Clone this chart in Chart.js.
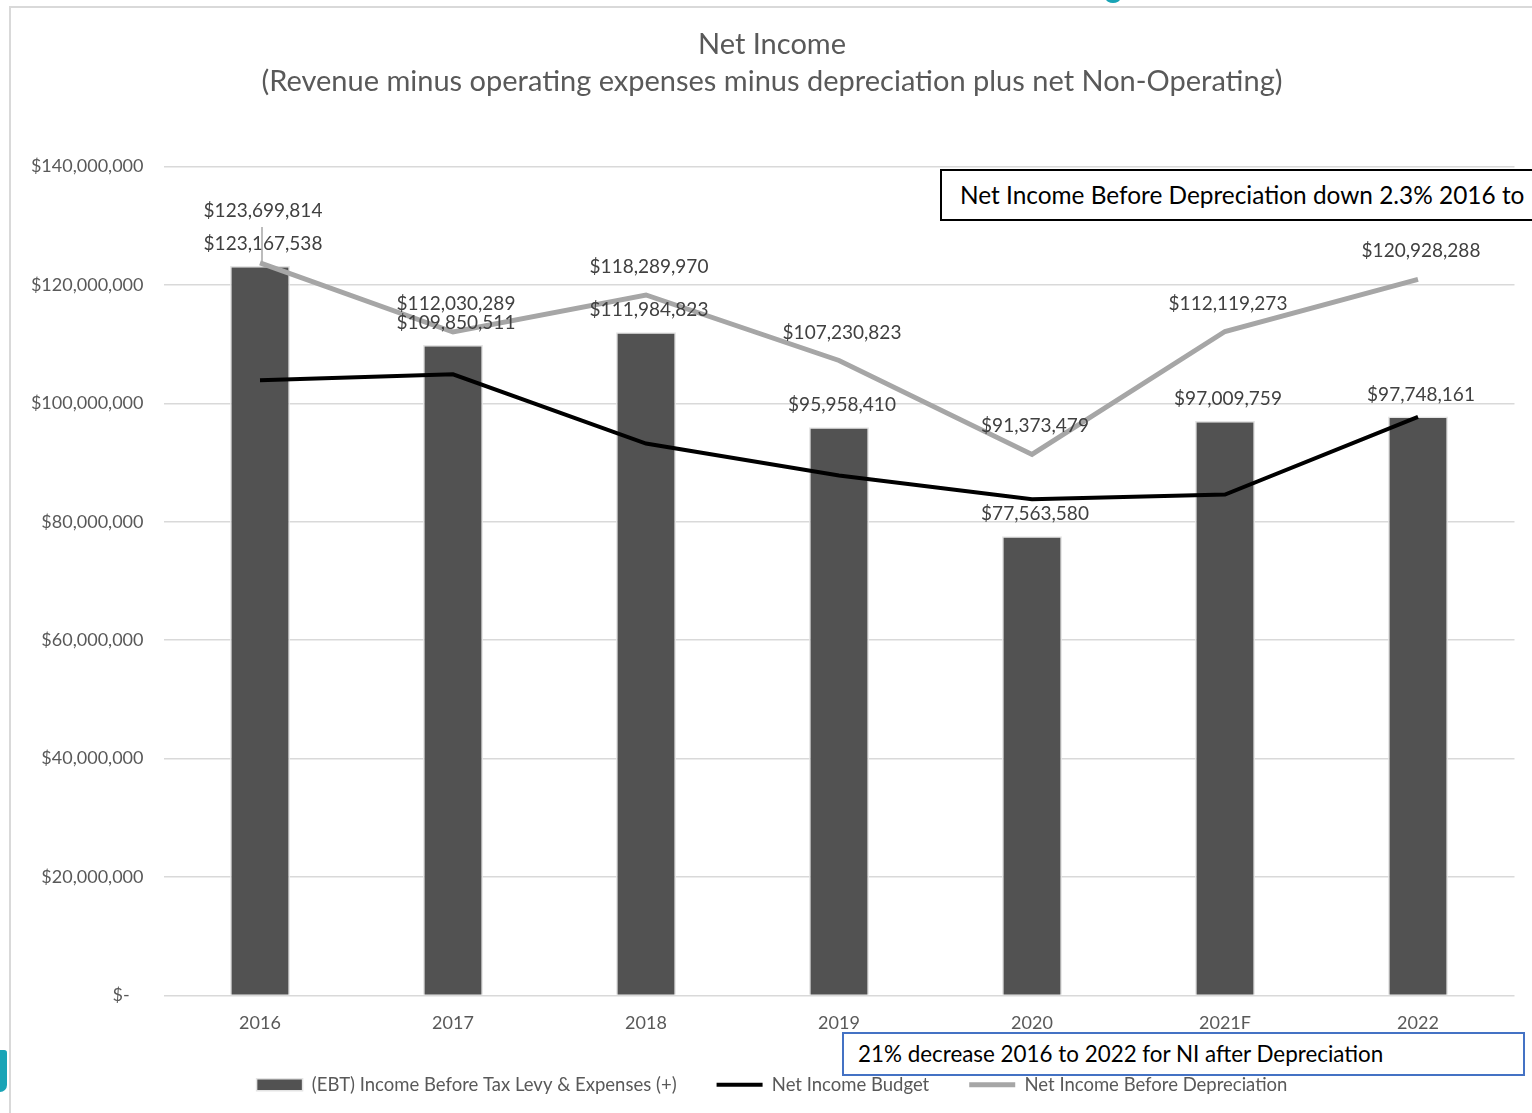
<!DOCTYPE html>
<html lang="en">
    <head>
        <meta charset="UTF-8">
        <title>Net Income</title>
        <script src="https://cdn.jsdelivr.net/npm/chart.js@4/dist/chart.umd.min.js"></script>
        <style>
            body { margin: 0; background: #fff; overflow: hidden; }
            .frame { position: absolute; left: 9px; top: 6px; width: 1700px; height: 1300px;
                     border-left: 2px solid #d9d9d9; border-top: 2px solid #d9d9d9; }
            #netIncome { position: absolute; left: 0; top: 0; }
            .note { position: absolute; background: #fff; font-family: Lato, sans-serif;
                    color: #000; white-space: nowrap; box-sizing: border-box; }
            .noteTop { left: 940px; top: 169px; width: 640px; height: 52px; border: 2px solid #000;
                       font-size: 24.4px; line-height: 48px; padding-left: 18px; }
            .noteBottom { left: 842px; top: 1032px; width: 683px; height: 44px; border: 2px solid #4472c4;
                          font-size: 22.4px; line-height: 40px; padding-left: 14px; }
            .tealLeft { position: absolute; left: 0; top: 1050px; width: 7px; height: 42px;
                        background: #19a4b6; border-radius: 0 4px 10px 0; }
            .tealTop { position: absolute; left: 1106px; top: -5px; width: 14px; height: 8px;
                       background: #19a4b6; border-radius: 50%; }
        </style>
    </head>
    <body>
        <div class="frame"></div>
        <div class="tealLeft"></div>
        <div class="tealTop"></div>
        <canvas id="netIncome" width="1532" height="1113"></canvas>
        <div class="note noteTop">Net Income Before Depreciation down 2.3% 2016 to</div>
        <div class="note noteBottom">21% decrease 2016 to 2022 for NI after Depreciation</div>

        <script>
            const years = ["2016", "2017", "2018", "2019", "2020", "2021F", "2022"];
            const ebt = [123167538, 109850511, 111984823, 95958410, 77563580, 97009759, 97748161];
            const budget = [103900000, 104900000, 93200000, 87800000, 83800000, 84600000, 97700000];
            const beforeDep = [123699814, 112030289, 118289970, 107230823, 91373479, 112119273, 120928288];
            const yTicks = [0, 20000000, 40000000, 60000000, 80000000, 100000000, 120000000, 140000000];

            const money = v => v === 0 ? "$-   " : "$" + v.toLocaleString("en-US");

            Chart.defaults.font.family = "Lato, sans-serif";
            Chart.defaults.color = "#595959";

            // value labels above the bars and the grey line
            const valueLabels = {
                id: "valueLabels",
                afterDatasetsDraw(chart) {
                    const ctx = chart.ctx;
                    ctx.save();
                    ctx.font = "19px Lato, sans-serif";
                    ctx.fillStyle = "#404040";
                    ctx.textAlign = "center";
                    ctx.textBaseline = "middle";
                    chart.getDatasetMeta(0).data.forEach((bar, i) => {
                        ctx.fillText(money(ebt[i]), bar.x + 3, bar.y - 22);
                    });
                    chart.getDatasetMeta(2).data.forEach((pt, i) => {
                        let lift = 28;
                        if (i === 0) {
                            lift = 52;
                            ctx.strokeStyle = "#a6a6a6";
                            ctx.lineWidth = 1.5;
                            ctx.beginPath();
                            ctx.moveTo(pt.x + 2, pt.y - 36);
                            ctx.lineTo(pt.x + 2, pt.y);
                            ctx.stroke();
                        }
                        ctx.fillText(money(beforeDep[i]), pt.x + 3, pt.y - lift);
                    });
                    ctx.restore();
                }
            };

            new Chart("netIncome", {
                type: "bar",
                data: {
                    labels: years,
                    datasets: [{
                        label: "(EBT) Income Before Tax Levy & Expenses (+)",
                        data: ebt,
                        backgroundColor: "#525252",
                        borderColor: "#e4e4e4",
                        borderWidth: 1.5,
                        categoryPercentage: 0.62,
                        barPercentage: 0.5,
                        pointStyle: "rect",
                        order: 2
                    }, {
                        type: "line",
                        label: "Net Income Budget",
                        data: budget,
                        borderColor: "#000000",
                        borderWidth: 4,
                        pointRadius: 0,
                        pointStyle: "line",
                        tension: 0,
                        order: 0
                    }, {
                        type: "line",
                        label: "Net Income Before Depreciation",
                        data: beforeDep,
                        borderColor: "#a6a6a6",
                        borderWidth: 5,
                        pointRadius: 0,
                        pointStyle: "line",
                        tension: 0,
                        order: 1
                    }]
                },
                options: {
                    responsive: false,
                    animation: false,
                    layout: { padding: { left: 29.5, right: 17.5, top: 0, bottom: 9 } },
                    scales: {
                        x: {
                            grid: { display: false, drawTicks: false },
                            border: { display: false },
                            ticks: { padding: 17, font: { size: 18 }, color: "#595959" },
                            afterFit(scale) { scale.height = 40; }
                        },
                        y: {
                            min: 0,
                            max: 140000000,
                            afterBuildTicks(scale) { scale.ticks = yTicks.map(v => ({ value: v })); },
                            grid: { color: "#d9d9d9", lineWidth: 1.5, drawTicks: false },
                            border: { display: false },
                            ticks: { padding: 20, font: { size: 18 }, color: "#595959", callback: v => money(v) },
                            afterFit(scale) { scale.width = 134; }
                        }
                    },
                    plugins: {
                        title: {
                            display: true,
                            text: "Net Income",
                            color: "#595959",
                            font: { size: 29, weight: "normal" },
                            padding: { top: 27.6, bottom: 2.2 }
                        },
                        subtitle: {
                            display: true,
                            text: "(Revenue minus operating expenses minus depreciation plus net Non-Operating)",
                            color: "#595959",
                            font: { size: 29 },
                            padding: { top: 0, bottom: 67 }
                        },
                        legend: {
                            position: "bottom",
                            labels: {
                                usePointStyle: true,
                                pointStyleWidth: 46,
                                boxHeight: 12,
                                padding: 40,
                                color: "#595959",
                                font: { size: 18.5 },
                                sort: (a, b) => a.datasetIndex - b.datasetIndex
                            }
                        },
                        tooltip: { enabled: false }
                    }
                },
                plugins: [valueLabels]
            });
        </script>
    </body>
</html>
